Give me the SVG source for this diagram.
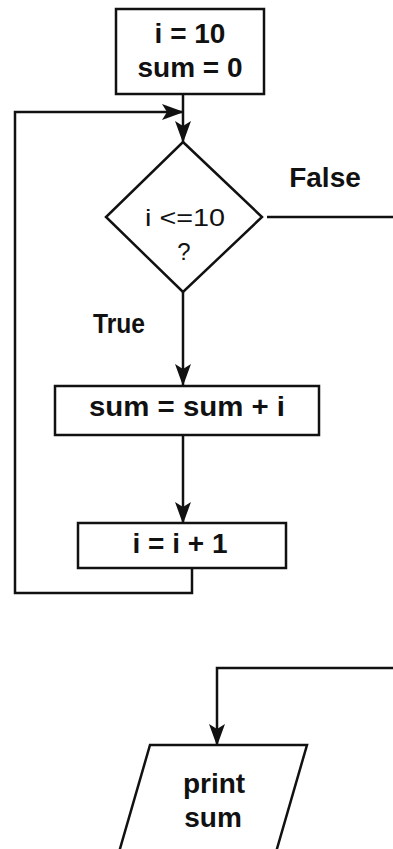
<svg xmlns="http://www.w3.org/2000/svg" width="393" height="849" viewBox="0 0 393 849">
<style>
.shape{fill:#fff;stroke:#111;stroke-width:2.5}
.conn{fill:none;stroke:#111;stroke-width:2.5}
.t{font-family:"Liberation Sans",Arial,sans-serif;font-weight:bold;font-size:28px;fill:#111;text-anchor:middle}
.r{font-family:"Liberation Sans",Arial,sans-serif;font-size:24px;fill:#111;text-anchor:middle}
</style>
<defs>
<marker id="arr" markerUnits="userSpaceOnUse" markerWidth="22" markerHeight="16" viewBox="0 0 22 16" refX="21" refY="8" orient="auto">
<path d="M0,0 L22,8 L0,16 L5,8 Z" fill="#111"/>
</marker>
</defs>
<rect width="393" height="849" fill="#fff"/>
<g id="connectors">
<path class="conn" d="M183,94 V142" marker-end="url(#arr)"/>
<path class="conn" d="M192,568 V593 H15 V112 H183" marker-end="url(#arr)"/>
<path class="conn" d="M183,292 V385" marker-end="url(#arr)"/>
<path class="conn" d="M183,435 V523" marker-end="url(#arr)"/>
<path class="conn" d="M267,217 H400 V668 H217 V745" marker-end="url(#arr)"/>
</g>
<g id="init">
<rect class="shape" x="116" y="9" width="148" height="85"/>
<text class="t" x="190" y="43">i = 10</text>
<text class="t" x="190" y="77">sum = 0</text>
</g>
<g id="cond">
<polygon class="shape" points="183,142 262,217 183,292 106,217"/>
<text class="r" x="185" y="226" textLength="80" lengthAdjust="spacingAndGlyphs">i &lt;=10</text>
<text class="r" x="184" y="260" font-size="25">?</text>
</g>
<g id="labelFalse"><text class="t" x="325" y="187">False</text></g>
<g id="labelTrue"><text class="t" x="119" y="333" font-size="26" textLength="52" lengthAdjust="spacingAndGlyphs">True</text></g>
<g id="add">
<rect class="shape" x="55" y="386" width="264" height="49"/>
<text class="t" x="187" y="416" textLength="196" lengthAdjust="spacingAndGlyphs">sum = sum + i</text>
</g>
<g id="inc">
<rect class="shape" x="78" y="523" width="208" height="45"/>
<text class="t" x="180" y="553">i = i + 1</text>
</g>
<g id="print">
<polygon class="shape" points="150,745 307,745 272,866 115,866"/>
<text class="t" x="214" y="793">print</text>
<text class="t" x="213" y="827">sum</text>
</g>
</svg>
